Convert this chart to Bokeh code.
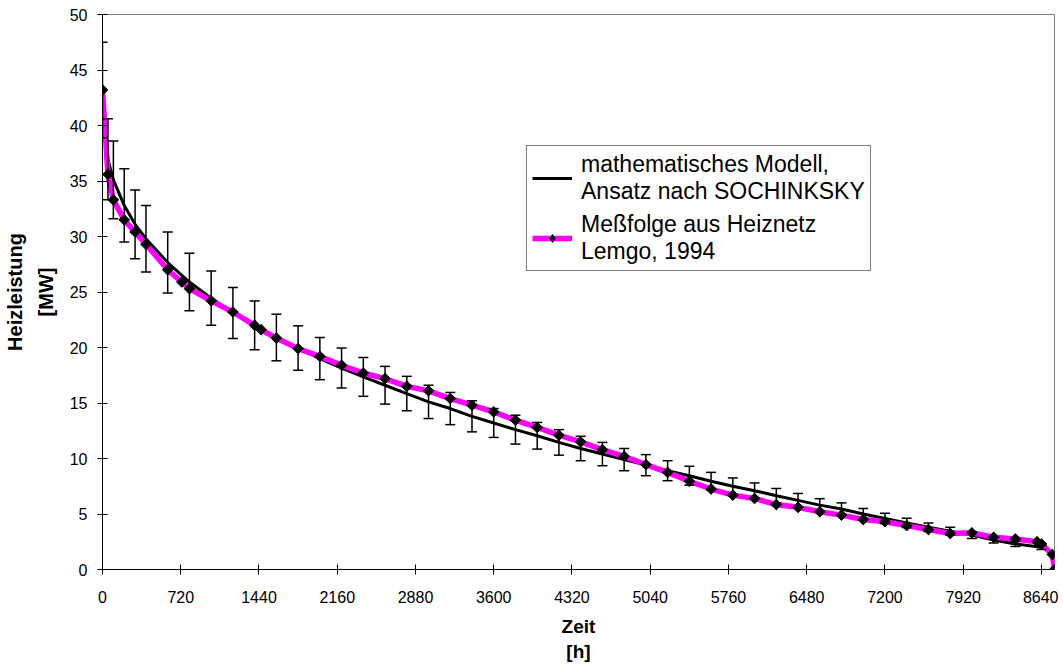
import math
from bokeh.plotting import figure
from bokeh.models import (Range1d, FixedTicker, ColumnDataSource, Whisker, TeeHead,
                          Legend, LegendItem)
from bokeh.embed import file_html
from bokeh.resources import INLINE

# measured load duration curve (Meßfolge aus Heiznetz Lemgo, 1994)
hours_meas = [0, 50, 100, 200, 300, 400, 600, 730, 800, 1000, 1200, 1400, 1460, 1600,
              1800, 2000, 2200, 2400, 2600, 2800, 3000, 3200, 3400, 3600, 3800, 4000,
              4200, 4400, 4600, 4800, 5000, 5200, 5400, 5600, 5800, 6000, 6200, 6400,
              6600, 6800, 7000, 7200, 7400, 7600, 7800, 8000, 8200, 8400, 8600, 8640,
              8740, 8760]
power_meas = [43.2, 35.6, 33.3, 31.5, 30.4, 29.3, 27.0, 25.9, 25.3, 24.2, 23.2, 22.0, 21.6, 20.85,
              19.9, 19.2, 18.4, 17.7, 17.2, 16.5, 16.1, 15.4, 14.8, 14.2, 13.45, 12.8,
              12.1, 11.5, 10.8, 10.2, 9.45, 8.75, 7.95, 7.25, 6.7, 6.4, 5.85, 5.6,
              5.2, 4.9, 4.5, 4.3, 3.95, 3.6, 3.25, 3.3, 2.9, 2.75, 2.5, 2.3,
              1.35, 0.0]

# mathematical model (Ansatz nach SOCHINKSKY) with error bars
hours_model = [0, 50, 100, 200, 300, 400, 600, 800, 1000, 1200, 1400, 1600, 1800, 2000,
               2200, 2400, 2600, 2800, 3000, 3200, 3400, 3600, 3800, 4000, 4200, 4400,
               4600, 4800, 5000, 5200, 5400, 5600, 5800, 6000, 6200, 6400, 6600, 6800,
               7000, 7200, 7400, 7600, 7800, 8000, 8200, 8400, 8640]
power_model = [43.2, 36.95, 35.1, 32.8, 31.1, 29.8, 27.65, 25.9, 24.45, 23.1, 22.0, 20.9, 19.95, 19.0,
               18.15, 17.35, 16.6, 15.85, 15.1, 14.5, 13.8, 13.2, 12.6, 12.05, 11.45, 10.9,
               10.4, 9.9, 9.4, 8.9, 8.45, 7.95, 7.5, 7.1, 6.65, 6.23, 5.8, 5.45,
               5.0, 4.6, 4.2, 3.8, 3.45, 3.1, 2.65, 2.3, 2.0]
err_model = [4.3, 3.65, 3.5, 3.3, 3.1, 3.0, 2.75, 2.6, 2.45, 2.3, 2.2, 2.1, 2.0, 1.9,
             1.8, 1.75, 1.7, 1.55, 1.5, 1.45, 1.4, 1.3, 1.3, 1.2, 1.15, 1.1,
             1.05, 1.0, 0.95, 0.9, 0.85, 0.8, 0.75, 0.7, 0.65, 0.62, 0.58, 0.55,
             0.5, 0.46, 0.42, 0.38, 0.35, 0.31, 0.27, 0.23, 0.2]

x_ticks = [0, 720, 1440, 2160, 2880, 3600, 4320, 5040, 5760, 6480, 7200, 7920, 8640]
y_ticks = [0, 5, 10, 15, 20, 25, 30, 35, 40, 45, 50]

label_model = "mathematisches Modell,\nAnsatz nach SOCHINKSKY"
label_meas = "Meßfolge aus Heiznetz\nLemgo, 1994"
x_title = "Zeit\n[h]"
y_title = "Heizleistung\n[MW]"

FONT = "Liberation Sans"

p = figure(width=1058, height=664, x_range=Range1d(0, 8760), y_range=Range1d(0, 50),
           output_backend="svg", toolbar_location=None,
           min_border_left=102, min_border_right=4, min_border_top=14, min_border_bottom=94)
p.xgrid.visible = False
p.ygrid.visible = False
p.outline_line_color = "#808080"
p.outline_line_width = 1

src_model = ColumnDataSource(dict(x=hours_model, y=power_model,
                                  upper=[m + e for m, e in zip(power_model, err_model)],
                                  lower=[m - e for m, e in zip(power_model, err_model)]))
src_meas = ColumnDataSource(dict(x=hours_meas, y=power_meas))

r_model = p.line("x", "y", source=src_model, line_color="black", line_width=3)

whisk = Whisker(source=src_model, base="x", upper="upper", lower="lower",
                line_color="black", line_width=1.5,
                upper_head=TeeHead(size=10, line_color="black", line_width=1.5),
                lower_head=TeeHead(size=10, line_color="black", line_width=1.5))
whisk.level = "glyph"
p.add_layout(whisk)

r_meas_line = p.line("x", "y", source=src_meas, line_color="#FF00FF", line_width=5.5)
# diamond symbols (used as legend key; hidden under the plotted markers)
r_leg_pts = p.scatter("x", "y", source=src_meas, marker="diamond", size=10,
                      fill_color="black", line_color="black")
r_meas_pts = p.scatter("x", "y", source=src_meas, marker="square", size=7.5, angle=math.pi / 4,
                       fill_color="black", line_color="black")

for ax in (p.xaxis[0], p.yaxis[0]):
    ax.major_tick_in = 5
    ax.major_tick_out = 5
    ax.minor_tick_in = 0
    ax.minor_tick_out = 0
    ax.axis_line_color = "black"
    ax.major_tick_line_color = "black"
    ax.major_label_text_font = FONT
    ax.major_label_text_font_size = "16px"
    ax.major_label_text_color = "black"
    ax.axis_label_text_font = FONT
    ax.axis_label_text_font_style = "bold"
    ax.axis_label_text_color = "black"

p.xaxis.axis_label_text_font_size = "19px"
p.xaxis.axis_label_text_line_height = 1.2
p.yaxis.axis_label_text_font_size = "20px"
p.yaxis.axis_label_text_line_height = 1.4

p.xaxis.ticker = FixedTicker(ticks=x_ticks, minor_ticks=[])
p.yaxis.ticker = FixedTicker(ticks=y_ticks, minor_ticks=[])
p.xaxis.axis_label = x_title
p.yaxis.axis_label = y_title
p.xaxis.major_label_standoff = 16
p.xaxis.axis_label_standoff = 10
p.yaxis.major_label_standoff = 10
p.yaxis.axis_label_standoff = 10

legend = Legend(items=[LegendItem(label=label_model, renderers=[r_model]),
                       LegendItem(label=label_meas, renderers=[r_meas_line, r_leg_pts])],
                location=(424, 298))
legend.label_text_font = FONT
legend.label_text_font_size = "23px"
legend.label_text_color = "black"
legend.glyph_width = 40
legend.glyph_height = 20
legend.label_standoff = 9
legend.padding = 5
legend.spacing = 6
legend.margin = 0
legend.border_line_color = "black"
legend.border_line_width = 1
legend.background_fill_color = "white"
legend.background_fill_alpha = 1
p.add_layout(legend, "center")

open("out.html", "w").write(file_html(p, INLINE))
